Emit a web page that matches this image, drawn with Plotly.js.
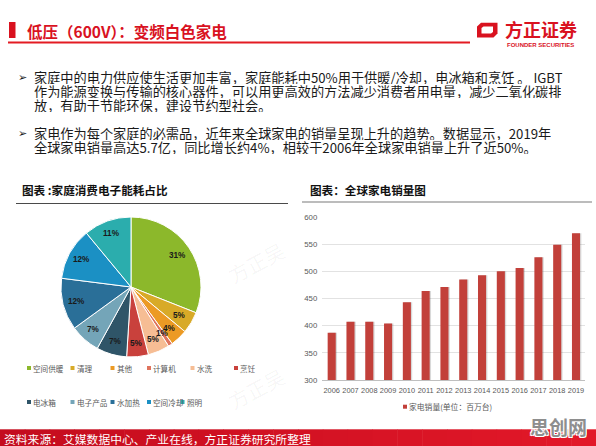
<!DOCTYPE html>
<html>
<head>
<meta charset="utf-8">
<script src="https://cdn.plot.ly/plotly-3.0.1.min.js"></script>
<style>
  html, body { margin: 0; padding: 0; background: #fff; }
  #slide { width: 596px; height: 446px; }
</style>
</head>
<body>
<div id="slide"></div>
<script>
// ---- Data: household electricity consumption shares ----
const pieLabels = ['空间供暖', '清理', '其他', '计算机', '水洗', '烹饪', '电冰箱', '电子产品', '水加热', '空间冷却', '照明'];
const pieValues = [31, 5, 4, 1, 5, 5, 7, 7, 12, 12, 11];
const pieColors = ['#8cb82b', '#d8aa27', '#ec9a24', '#df735d', '#f6bd94', '#c9413c',
                   '#2f5568', '#74a5b8', '#2a6f98', '#1b90c4', '#2badad'];

// ---- Data: global home appliance sales (million units) ----
const years = ['2006', '2007', '2008', '2009', '2010', '2011', '2012', '2013', '2014', '2015', '2016', '2017', '2018', '2019'];
const sales = [387, 407, 407, 404, 443, 464, 471, 485, 493, 500, 506, 526, 549, 570];
const salesName = '家电销量(单位：百万台)';

// ---- Slide text ----
const slideTitle = '低压（600V）：变频白色家电';
const bullet1 = [
  '家庭中的电力供应使生活更加丰富，家庭能耗中50%用于供暖/冷却，电冰箱和烹饪 。 IGBT',
  '作为能源变换与传输的核心器件，可以用更高效的方法减少消费者用电量，减少二氧化碳排',
  '放，有助于节能环保，建设节约型社会。'
];
const bullet2 = [
  '家电作为每个家庭的必需品，近年来全球家电的销量呈现上升的趋势。数据显示，2019年',
  '全球家电销量高达5.7亿，同比增长约4%，相较于2006年全球家电销量上升了近50%。'
];
const pieHeader = '图表 :家庭消费电子能耗占比';
const barHeader = '图表：全球家电销量图';
const sourceNote = '资料来源：艾媒数据中心、产业在线，方正证券研究所整理';

// ---- Geometry helpers (pixel -> paper) ----
const W = 596, H = 446;
const px = x => x / W;
const py = y => 1 - y / H;

const CJK = '"Noto Sans CJK SC", "Noto Sans", sans-serif';
const LAT = '"Liberation Sans", Arial, sans-serif';
const RED = '#d9121f';

const pieCenter = { x: 131, y: 287, r: 70 };
const pieLabelRadius = 0.81;

const annotations = [];
const shapes = [];

function label(x, y, text, font, extra) {
  annotations.push(Object.assign({
    xref: 'paper', yref: 'paper', x: px(x), y: py(y),
    xanchor: 'left', yanchor: 'middle', showarrow: false, borderpad: 0,
    text: text, font: font
  }, extra || {}));
}
function rect(x0, y0, x1, y1, color, extra) {
  shapes.push(Object.assign({
    type: 'rect', xref: 'paper', yref: 'paper',
    x0: px(x0), x1: px(x1), y0: py(y0), y1: py(y1),
    fillcolor: color, line: { width: 0 }, layer: 'above'
  }, extra || {}));
}
function hline(x0, x1, y, color, width) {
  shapes.push({
    type: 'line', xref: 'paper', yref: 'paper',
    x0: px(x0), x1: px(x1), y0: py(y), y1: py(y),
    line: { color: color, width: width }, layer: 'above'
  });
}

// ---- Faint diagonal watermark in the gap between the charts ----
[[256, 262], [256, 388]].forEach(p => {
  label(p[0], p[1], '方正吴', { family: CJK, size: 20, color: 'rgba(0,0,0,0.045)' },
        { xanchor: 'center', textangle: -28 });
});

// ---- Title bar ----
rect(9, 22, 15.5, 38, RED);
label(26, 31, slideTitle, { family: CJK, size: 15.5, color: RED, weight: 'bold' });
hline(8, 470, 42.5, '#e31b23', 2);

// Company logo mark + name
shapes.push({
  type: 'path', xref: 'paper', yref: 'paper', layer: 'above',
  path: `M${px(477)},${py(26.5)} L${px(481)},${py(22.7)} L${px(497.5)},${py(22.7)} L${px(497.5)},${py(33.5)} L${px(493.5)},${py(37.5)} L${px(477)},${py(37.5)} Z`,
  fillcolor: RED, line: { width: 0 }
});
shapes.push({
  type: 'path', xref: 'paper', yref: 'paper', layer: 'above',
  path: `M${px(481.5)},${py(28)} L${px(483.5)},${py(26.5)} L${px(493)},${py(26.5)} L${px(493)},${py(32)} L${px(491)},${py(33.5)} L${px(481.5)},${py(33.5)} Z`,
  fillcolor: '#ffffff', line: { width: 0 }
});
label(504, 29, '方正证券', { family: CJK, size: 18, color: RED, weight: 'bold' });
label(506, 44.5, 'FOUNDER SECURITIES', { family: LAT, size: 6, color: RED, weight: 'bold' });

// ---- Bullet text (tight line pitch, fixed box height per line) ----
const bodyFont = { family: CJK, size: 13.2, color: '#1a1a1a' };
const lineBox = { height: 14 };
const lineY1 = [77, 91.5, 105.5];
const lineY2 = [133, 147];
label(17, lineY1[0], '➢', { family: '"DejaVu Sans", sans-serif', size: 11, color: '#1a1a1a' }, lineBox);
bullet1.forEach((t, i) => label(33, lineY1[i], t, bodyFont, lineBox));
label(17, lineY2[0], '➢', { family: '"DejaVu Sans", sans-serif', size: 11, color: '#1a1a1a' }, lineBox);
bullet2.forEach((t, i) => label(33, lineY2[i], t, bodyFont, lineBox));

// ---- Chart headers ----
label(21, 189.5, pieHeader, { family: CJK, size: 11.6, color: '#111', weight: 'bold' });
hline(16, 288, 203.5, '#4a4a4a', 1);
label(309, 190, barHeader, { family: CJK, size: 11.6, color: '#111', weight: 'bold' });
hline(302, 592, 202, '#a6a6a6', 1.5);

// ---- Pie value labels at each slice's mid-angle ----
const total = pieValues.reduce((a, b) => a + b, 0);
let acc = 0;
pieValues.forEach(v => {
  const mid = (acc + v / 2) / total * 2 * Math.PI;
  acc += v;
  const rr = pieCenter.r * pieLabelRadius;
  label(pieCenter.x + rr * Math.sin(mid), pieCenter.y - rr * Math.cos(mid), v + '%',
        { family: LAT, size: 8.2, color: '#1a1a1a', weight: 'bold' }, { xanchor: 'center' });
});

// ---- Pie legend (two rows) ----
const legendSlots = [[29, 368], [72.5, 368], [112.5, 368], [149, 368], [192.5, 368], [236, 368],
                     [29, 402], [72.5, 402], [112.5, 402], [149, 402], [182.5, 402]];
pieLabels.forEach((name, i) => {
  const s = legendSlots[i];
  rect(s[0] - 2, s[1] - 2, s[0] + 2, s[1] + 2, pieColors[i]);
  label(s[0] + 3, s[1], name, { family: CJK, size: 7.6, color: '#595959' });
});

// ---- Bar legend ----
const barColor = '#c2403a';
rect(403, 404.7, 407, 408.7, barColor);
label(408, 406.7, salesName, { family: CJK, size: 7.8, color: '#595959' });

// ---- Footer band ----
const bandSteps = 24;
for (let i = 0; i < bandSteps; i++) {
  const t = i / (bandSteps - 1);
  const r = Math.round(196 + (226 - 196) * t);
  const g = Math.round(12 + (24 - 12) * t);
  const b = Math.round(30 + (40 - 30) * t);
  rect(W * i / bandSteps, 429.3, W * (i + 1) / bandSteps + 0.5, 446, `rgb(${r},${g},${b})`, { layer: 'below' });
}
label(3, 438, sourceNote, { family: CJK, size: 11.8, color: '#ffffff' });
label(558, 426.5, '思创网', { family: CJK, size: 19, color: '#8e8e8e', weight: 'bold',
                               shadow: '1px 1px 0 #fff, -1px -1px 0 #fff, 1px -1px 0 #fff, -1px 1px 0 #fff' },
      { xanchor: 'center' });

// ---- Traces ----
const pieTrace = {
  type: 'pie', labels: pieLabels, values: pieValues, sort: false,
  direction: 'clockwise', rotation: 0, textinfo: 'none', hoverinfo: 'label+percent',
  marker: { colors: pieColors, line: { color: '#ffffff', width: 1 } },
  showlegend: false,
  domain: { x: [px(pieCenter.x - pieCenter.r), px(pieCenter.x + pieCenter.r)],
            y: [py(pieCenter.y + pieCenter.r), py(pieCenter.y - pieCenter.r)] }
};

const barWidth = 0.43;
const shadowTrace = {
  type: 'bar', x: years, y: sales, width: barWidth, offset: -barWidth / 2 + 0.07,
  marker: { color: 'rgba(80,80,80,0.22)' }, hoverinfo: 'skip', showlegend: false
};
const barTrace = {
  type: 'bar', x: years, y: sales, name: salesName, width: barWidth, offset: -barWidth / 2,
  marker: { color: barColor }, showlegend: false
};

const layout = {
  width: W, height: H,
  margin: { l: 0, r: 0, t: 0, b: 0 },
  paper_bgcolor: '#ffffff', plot_bgcolor: 'rgba(0,0,0,0)',
  barmode: 'overlay',
  showlegend: false,
  xaxis: {
    domain: [px(322.3), px(585.4)], type: 'category', range: [-0.5, 13.5],
    showgrid: false, showline: true, linecolor: '#bfbfbf', linewidth: 1,
    ticks: '', tickangle: 0, tickfont: { family: LAT, size: 7.4, color: '#595959' },
    ticklabelstandoff: 3, fixedrange: true
  },
  yaxis: {
    domain: [py(380), py(217)], range: [300, 600], tick0: 300, dtick: 50,
    showgrid: true, gridcolor: '#e2e2e2', gridwidth: 1, zeroline: false, showline: false,
    ticks: '', tickfont: { family: LAT, size: 7.8, color: '#595959' },
    ticklabelstandoff: 4, fixedrange: true
  },
  annotations: annotations,
  shapes: shapes
};

Plotly.newPlot('slide', [pieTrace, shadowTrace, barTrace], layout, { displayModeBar: false, staticPlot: true });
</script>
</body>
</html>
